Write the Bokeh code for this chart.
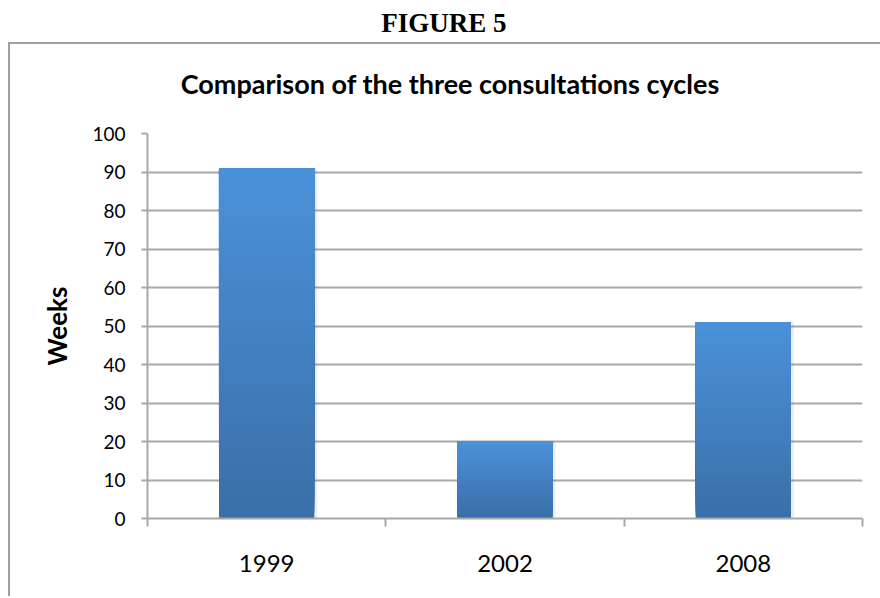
from bokeh.plotting import figure
from bokeh.models import Div, Range1d, FixedTicker
from bokeh.layouts import column
from bokeh.embed import file_html
from bokeh.resources import INLINE

# ---- data ----
categories = ["1999", "2002", "2008"]
weeks = [91, 20, 51]
y_ticks = [0, 10, 20, 30, 40, 50, 60, 70, 80, 90, 100]
figure_label = "FIGURE 5"
chart_title = "Comparison of the three consultations cycles"
y_label = "Weeks"

# ---- styling ----
TOP_RGB = (75, 145, 216)
BOT_RGB = (58, 111, 168)
GRID = "#a8a8a8"
N_SLICES = 60

header = Div(
    text=figure_label,
    width=872, height=34, margin=(0, 0, 0, 0),
    styles={"font-family": "Liberation Serif", "font-weight": "bold",
            "font-size": "27px", "text-align": "center", "line-height": "27px",
            "padding-top": "2px", "color": "#000", "width": "872px"},
)

title_div = Div(
    text=chart_title,
    width=870, height=60, margin=(0, 0, 0, 0),
    styles={"font-family": "Lato", "font-weight": "bold",
            "font-size": "27px", "text-align": "center", "line-height": "27px",
            "padding-top": "26px", "padding-left": "10px", "color": "#000",
            "width": "870px", "box-sizing": "border-box"},
)

p = figure(
    width=870, height=492, margin=(0, 0, 0, 0),
    x_range=Range1d(0.5, len(categories) + 0.5),
    y_range=Range1d(y_ticks[0], y_ticks[-1]),
    output_backend="svg", toolbar_location=None,
    min_border_left=137, min_border_right=18, min_border_top=29, min_border_bottom=78,
)
p.outline_line_color = None
p.background_fill_color = "white"
p.border_fill_color = "white"

# gradient bars: each slice runs from its own bottom to the bar top; later
# (higher) slices are painted over earlier ones, so there are no seams
xs, bottoms, tops, colors = [], [], [], []
for i, v in enumerate(weeks):
    for k in range(N_SLICES):
        t = (k + 0.5) / N_SLICES
        r = round(BOT_RGB[0] + (TOP_RGB[0] - BOT_RGB[0]) * t)
        g = round(BOT_RGB[1] + (TOP_RGB[1] - BOT_RGB[1]) * t)
        b = round(BOT_RGB[2] + (TOP_RGB[2] - BOT_RGB[2]) * t)
        xs.append(i + 1)
        bottoms.append(v * k / N_SLICES)
        tops.append(v)
        colors.append("#%02x%02x%02x" % (r, g, b))

# soft shadow
p.vbar(x=[i + 1.006 for i in range(len(categories))], top=weeks, bottom=0, width=0.412,
       fill_color="#000000", fill_alpha=0.07, line_color=None)
p.vbar(x=xs, bottom=bottoms, top=tops, width=0.4, fill_color=colors, line_color=None)

# x axis
p.xaxis.ticker = FixedTicker(ticks=[i + 1 for i in range(len(categories))],
                             minor_ticks=[i + 0.5 for i in range(len(categories) + 1)])
p.xaxis.major_label_overrides = {i + 1: c for i, c in enumerate(categories)}
p.xaxis.major_tick_line_color = None
p.xaxis.major_tick_out = 0
p.xaxis.major_tick_in = 0
p.xaxis.minor_tick_out = 8
p.xaxis.minor_tick_in = 0
p.xaxis.minor_tick_line_color = GRID
p.xaxis.minor_tick_line_width = 2
p.xaxis.axis_line_color = GRID
p.xaxis.axis_line_width = 2
p.xaxis.major_label_standoff = 28
p.xaxis.major_label_text_font = "Lato"
p.xaxis.major_label_text_font_size = "24px"
p.xaxis.major_label_text_color = "#000000"

# y axis
p.yaxis.ticker = FixedTicker(ticks=y_ticks)
p.yaxis.axis_label = y_label
p.yaxis.axis_label_text_font = "Lato"
p.yaxis.axis_label_text_font_size = "26px"
p.yaxis.axis_label_text_font_style = "bold"
p.yaxis.axis_label_text_color = "#000000"
p.yaxis.axis_label_standoff = 16
p.yaxis.major_tick_out = 6
p.yaxis.major_tick_in = 0
p.yaxis.minor_tick_line_color = None
p.yaxis.major_tick_line_color = GRID
p.yaxis.major_tick_line_width = 2
p.yaxis.axis_line_color = GRID
p.yaxis.axis_line_width = 2
p.yaxis.major_label_standoff = 16
p.yaxis.major_label_text_font = "Lato"
p.yaxis.major_label_text_font_size = "19px"
p.yaxis.major_label_text_color = "#000000"

p.xgrid.grid_line_color = None
p.ygrid.grid_line_color = GRID
p.ygrid.grid_line_width = 2

boxed = column(title_div, p, margin=(0, 0, 0, 0), spacing=0,
               styles={"border-top": "2px solid #a0a0a0", "border-left": "2px solid #a0a0a0"})
layout = column(header, boxed, margin=(8, 0, 0, 8), spacing=0)

open("out.html", "w").write(file_html(layout, INLINE))
